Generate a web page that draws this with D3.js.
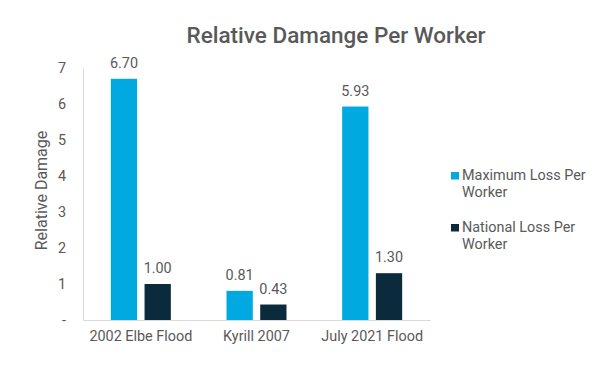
<!DOCTYPE html>
<html><head><meta charset="utf-8">
<script src="https://cdn.jsdelivr.net/npm/d3@7"></script>
<style>body{margin:0;background:#fff;} text{font-family:Roboto,"Noto Sans",sans-serif;}</style>
</head><body>
<svg id="c" width="600" height="371"></svg>
<script>
const categories = ["2002 Elbe Flood", "Kyrill 2007", "July 2021 Flood"];
const seriesNames = ["Maximum Loss Per Worker", "National Loss Per Worker"];
const maxLoss = [6.70, 0.81, 5.93];
const nationalLoss = [1.00, 0.43, 1.30];
const tickValues = [0, 1, 2, 3, 4, 5, 6, 7];
const tickLabels = ["-", "1", "2", "3", "4", "5", "6", "7"];
const colors = ["#00A9E0", "#0B2A3C"];

const svg = d3.select("#c");
const m = {left: 83, right: 430, top: 68, bottom: 320};
const x = d3.scaleBand().domain(categories).range([m.left, m.right]).paddingInner(0).paddingOuter(0);
const y = d3.scaleLinear().domain([0, 7]).range([m.bottom, m.top]);
const xs = d3.scaleBand().domain([0, 1]).range([-30, 30]).paddingInner(0.22).paddingOuter(0);

const textCol = "#595959";
const fs = 14.4;

svg.append("text").attr("x", 336).attr("y", 43).attr("text-anchor", "middle")
  .attr("font-size", 22.5).attr("font-weight", 500).attr("fill", textCol)
  .text("Relative Damange Per Worker");

// y axis
const ya = svg.append("g").attr("transform", `translate(${m.left},0)`)
  .call(d3.axisLeft(y).tickValues(tickValues).tickFormat((d, i) => tickLabels[i]).tickSize(0).tickPadding(17));
ya.select(".domain").attr("stroke", "#d9d9d9");
ya.selectAll("text").attr("font-size", fs).attr("fill", textCol).attr("font-family", "Roboto");

// x axis
const xa = svg.append("g").attr("transform", `translate(0,${m.bottom})`)
  .call(d3.axisBottom(x).tickSize(0).tickPadding(11));
xa.select(".domain").attr("stroke", "#d9d9d9");
xa.selectAll("text").attr("font-size", fs).attr("fill", textCol).attr("font-family", "Roboto");

const series = [maxLoss, nationalLoss];
series.forEach((vals, si) => {
  const g = svg.append("g");
  g.selectAll("rect").data(vals).enter().append("rect")
    .attr("x", (d, i) => x(categories[i]) + x.bandwidth() / 2 + xs(si))
    .attr("width", xs.bandwidth())
    .attr("y", d => y(d))
    .attr("height", d => y(0) - y(d))
    .attr("fill", colors[si]);
  g.selectAll("text").data(vals).enter().append("text")
    .attr("x", (d, i) => x(categories[i]) + x.bandwidth() / 2 + xs(si) + xs.bandwidth() / 2)
    .attr("y", d => y(d) - 11)
    .attr("text-anchor", "middle").attr("font-size", fs).attr("fill", textCol)
    .text(d => d.toFixed(2));
});

// axis title
svg.append("text").attr("transform", "translate(47,190.5) rotate(-90)")
  .attr("text-anchor", "middle").attr("font-size", 16).attr("fill", textCol)
  .text("Relative Damage");

// legend
const legY = [179.5, 231.5];
seriesNames.forEach((n, i) => {
  const words = n.split(" ");
  const l1 = words.slice(0, 3).join(" "), l2 = words.slice(3).join(" ");
  svg.append("rect").attr("x", 451).attr("y", legY[i] - 7.5).attr("width", 8).attr("height", 7.5).attr("fill", colors[i]);
  const t = svg.append("text").attr("x", 462).attr("y", legY[i]).attr("font-size", fs).attr("fill", textCol);
  t.append("tspan").attr("x", 462).text(l1);
  t.append("tspan").attr("x", 462).attr("dy", 17.5).text(l2);
});
</script>
</body></html>
